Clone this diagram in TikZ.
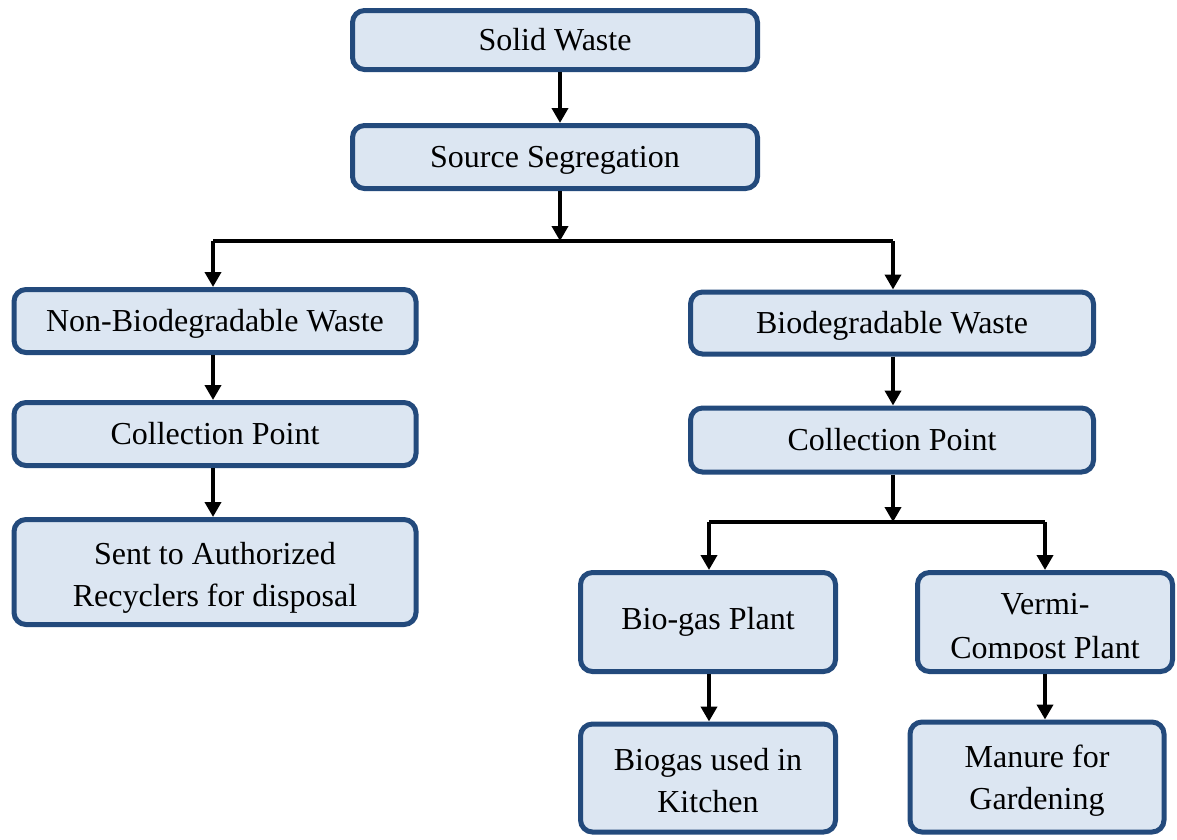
\documentclass[tikz,border=0pt]{standalone}
\usepackage{fontspec}
\setmainfont{Liberation Serif}
\usetikzlibrary{arrows.meta}
\definecolor{boxblue}{RGB}{35,74,124}
\definecolor{boxfill}{RGB}{220,230,242}
% centred lines of box text on even struts, set a little below the middle
\newcommand\boxtext[2][-1.6pt]{\raisebox{#1}[\height][\depth]{\begin{tabular}{@{}c@{}}#2\end{tabular}}}
\tikzset{
  stage/.style={draw=boxblue, fill=boxfill, line width=5pt, rounded corners=12pt,
    inner sep=0pt, font=\fontsize{32}{42}\selectfont},
  link/.style={line width=4pt, line join=miter, -{Triangle[width=16pt,length=15pt]}},
  bar/.style={line width=4pt, line join=miter}
}
\begin{document}
\begin{tikzpicture}[x=1pt,y=-1pt]
\useasboundingbox (0,0) rectangle (1177,839);

% main trunk
\node[stage, minimum width=405pt, minimum height=59pt] (sw) at (555,40) {\boxtext{Solid Waste}};
\node[stage, minimum width=405pt, minimum height=63pt] (ss) at (555,157) {\boxtext{Source Segregation}};

% non-biodegradable branch
\node[stage, minimum width=402pt, minimum height=63pt] (nb) at (215,321) {\boxtext{Non-Biodegradable Waste}};
\node[stage, minimum width=402pt, minimum height=63pt] (cl) at (215,434) {\boxtext{Collection Point}};
\node[stage, minimum width=402pt, minimum height=105pt] (rc) at (215,572) {\boxtext[-4.6pt]{Sent to Authorized\\Recyclers for disposal}};

% biodegradable branch
\node[stage, minimum width=403pt, minimum height=62pt] (bw) at (892,323) {\boxtext{Biodegradable Waste}};
\node[stage, minimum width=403pt, minimum height=64pt] (cr) at (892,440) {\boxtext{Collection Point}};
\node[stage, minimum width=255pt, minimum height=99pt] (bg) at (708,622) {\boxtext[1pt]{Bio-gas Plant}};
\node[stage, minimum width=255pt, minimum height=99pt] (vc) at (1045,622) {};
\begin{scope}
  \clip (915,574) rectangle (1175,658);
  \node[font=\fontsize{32}{44}\selectfont, align=center, inner sep=0pt] (vct) at (1045,629) {Vermi-\\Compost Plant};
\end{scope}
\node[stage, minimum width=255pt, minimum height=108pt] (bk) at (708,778) {\boxtext[-4.6pt]{Biogas used in\\Kitchen}};
\node[stage, minimum width=254pt, minimum height=110pt] (mg) at (1037,777) {\boxtext[-3pt]{Manure for\\Gardening}};

% junction points
\coordinate (j1) at (560,241);
\coordinate (j2) at (893,522);

% connectors
\draw[link] ([xshift=5pt]sw.south) -- ([xshift=5pt]ss.north);
\draw[bar] ([xshift=-2pt]nb.north |- j1) -- ([xshift=1pt]bw.north |- j1);
\draw[link] ([xshift=-2pt]nb.north |- j1) -- ([xshift=-2pt]nb.north);
\draw[link] ([xshift=1pt]bw.north |- j1) -- ([xshift=1pt]bw.north);
\draw[link] ([xshift=5pt]ss.south) -- (j1);

\draw[link] ([xshift=-2pt]nb.south) -- ([xshift=-2pt]cl.north);
\draw[link] ([xshift=-2pt]cl.south) -- ([xshift=-2pt]rc.north);

\draw[link] ([xshift=1pt]bw.south) -- ([xshift=1pt]cr.north);
\draw[link] ([xshift=1pt]cr.south) -- (j2);
\draw[bar] ([xshift=1pt]bg.north |- j2) -- (vc.north |- j2);
\draw[link] ([xshift=1pt]bg.north |- j2) -- ([xshift=1pt]bg.north);
\draw[link] (vc.north |- j2) -- (vc.north);

\draw[link] ([xshift=1pt]bg.south) -- ([xshift=1pt]bk.north);
\draw[link] (vc.south) -- (vc.south |- mg.north);
\end{tikzpicture}
\end{document}
